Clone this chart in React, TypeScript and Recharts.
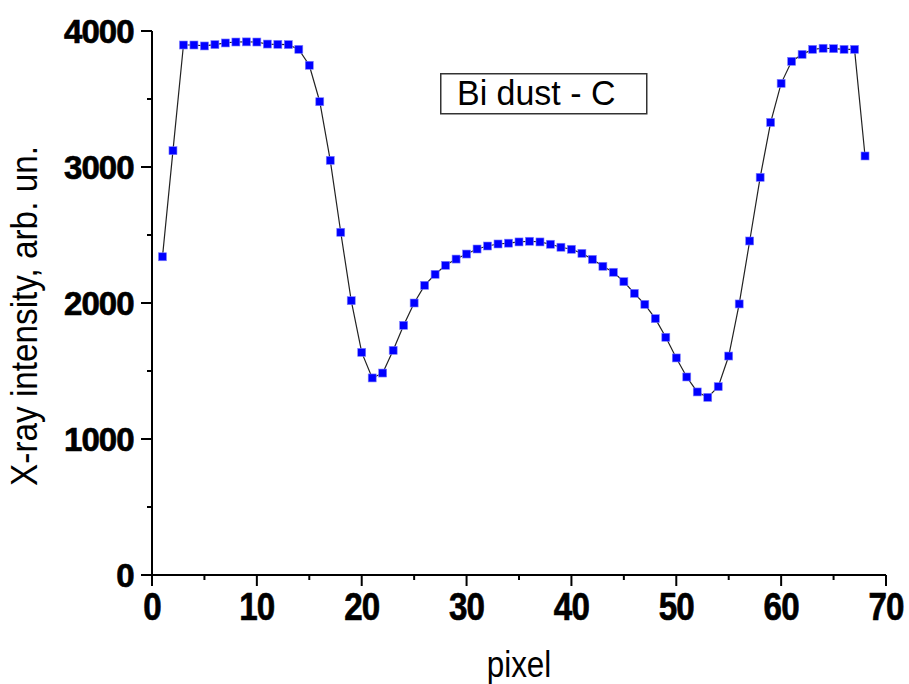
import { LineChart, Line, XAxis, YAxis, Legend } from "recharts"

const pixels = [
  1, 2, 3, 4, 5, 6, 7, 8, 9, 10, 11, 12, 13, 14, 15, 16, 17, 18, 19, 20,
  21, 22, 23, 24, 25, 26, 27, 28, 29, 30, 31, 32, 33, 34, 35, 36, 37, 38, 39, 40,
  41, 42, 43, 44, 45, 46, 47, 48, 49, 50, 51, 52, 53, 54, 55, 56, 57, 58, 59, 60,
  61, 62, 63, 64, 65, 66, 67, 68,
]

const intensity = [
  2340, 3120, 3897, 3897, 3890, 3900, 3912, 3919, 3920, 3919,
  3904, 3902, 3900, 3865, 3748, 3480, 3049, 2520, 2017, 1637,
  1449, 1485, 1652, 1836, 2000, 2130, 2211, 2277, 2323, 2360,
  2397, 2419, 2434, 2440, 2449, 2454, 2449, 2432, 2410, 2395,
  2365, 2321, 2270, 2226, 2157, 2071, 1990, 1885, 1748, 1596,
  1456, 1346, 1306, 1385, 1610, 1993, 2456, 2924, 3328, 3615,
  3777, 3828, 3865, 3873, 3870, 3865, 3865, 3081,
]

const xTicks = [0, 5, 10, 15, 20, 25, 30, 35, 40, 45, 50, 55, 60, 65, 70]
const yTicks = [0, 500, 1000, 1500, 2000, 2500, 3000, 3500, 4000]

const seriesName = "Bi dust - C"

const data = pixels.map((p, i) => ({ pixel: p, value: intensity[i] }))

const FONT = '"Liberation Sans", Arial, Helvetica, sans-serif'

const XTick = (props: any) => {
  const { x, y, payload } = props
  const major = payload.value % 10 === 0
  return (
    <g>
      <line x1={x} y1={y} x2={x} y2={y + (major ? 11 : 5)} stroke="#000" strokeWidth={2} />
      {major && (
        <text
          transform={`translate(${x},${y + 45}) scale(0.85,1)`}
          textAnchor="middle"
          fontFamily={FONT}
          fontWeight="bold"
          fontSize={39}
          letterSpacing={-1}
          stroke="#000"
          strokeWidth={0.7}
          fill="#000"
        >
          {payload.value}
        </text>
      )}
    </g>
  )
}

const YTick = (props: any) => {
  const { x, y, payload } = props
  const major = payload.value % 1000 === 0
  return (
    <g>
      <line x1={x - (major ? 11 : 5)} y1={y} x2={x} y2={y} stroke="#000" strokeWidth={2} />
      {major && (
        <text
          x={x - 18.5}
          y={y + 11.5}
          textAnchor="end"
          fontFamily={FONT}
          fontWeight="bold"
          fontSize={33}
          letterSpacing={-1}
          stroke="#000"
          strokeWidth={0.7}
          fill="#000"
        >
          {payload.value}
        </text>
      )}
    </g>
  )
}

const XTitle = (props: any) => {
  const { x, y, width } = props.viewBox
  return (
    <text
      transform={`translate(${x + width / 2},${y + 102}) scale(0.85,1)`}
      textAnchor="middle"
      fontFamily={FONT}
      fontSize={37}
      fill="#000"
    >
      pixel
    </text>
  )
}

const YTitle = (props: any) => {
  const { y, height } = props.viewBox
  return (
    <text
      transform={`translate(37,${y + height / 2 + 13}) rotate(-90) scale(0.9,1)`}
      textAnchor="middle"
      fontFamily={FONT}
      fontSize={37}
      fill="#000"
    >
      X-ray intensity, arb. un.
    </text>
  )
}

const SquareDot = (props: any) => {
  const { cx, cy, index } = props
  return (
    <rect
      key={`dot-${index}`}
      x={cx - 4}
      y={cy - 4}
      width={8}
      height={8}
      fill="#0000ff"
      stroke="#7f7fff"
      strokeWidth={0.6}
    />
  )
}

const LegendBox = () => (
  <svg width={210} height={44} style={{ display: "block" }}>
    <rect x={0.75} y={0.75} width={206} height={40} fill="#fff" stroke="#333" strokeWidth={1.5} />
    <text
      transform="translate(17,32) scale(0.97,1)"
      fontFamily={FONT}
      fontSize={35}
      fill="#000"
    >
      {seriesName}
    </text>
  </svg>
)

export default function App() {
  return (
    <div style={{ position: "absolute", left: 0, top: 0, background: "#fff" }}>
      <LineChart width={909} height={684} data={data} margin={{ top: 31, right: 23, bottom: 0, left: 0 }}>
        <XAxis
          dataKey="pixel"
          type="number"
          domain={[0, 70]}
          ticks={xTicks}
          interval={0}
          height={109}
          tickSize={0}
          tickMargin={0}
          tickLine={false}
          axisLine={{ stroke: "#000", strokeWidth: 2 }}
          tick={<XTick />}
          label={<XTitle />}
        />
        <YAxis
          type="number"
          domain={[0, 4000]}
          ticks={yTicks}
          interval={0}
          width={152}
          tickSize={0}
          tickMargin={0}
          tickLine={false}
          axisLine={{ stroke: "#000", strokeWidth: 2 }}
          tick={<YTick />}
          label={<YTitle />}
        />
        <Legend
          layout="vertical"
          align="center"
          verticalAlign="middle"
          wrapperStyle={{ left: 440, top: 73, width: 210, height: 44 }}
          content={<LegendBox />}
        />
        <Line
          type="linear"
          dataKey="value"
          name={seriesName}
          stroke="#222"
          strokeWidth={1.2}
          dot={<SquareDot />}
          activeDot={false}
          isAnimationActive={false}
        />
      </LineChart>
    </div>
  )
}
